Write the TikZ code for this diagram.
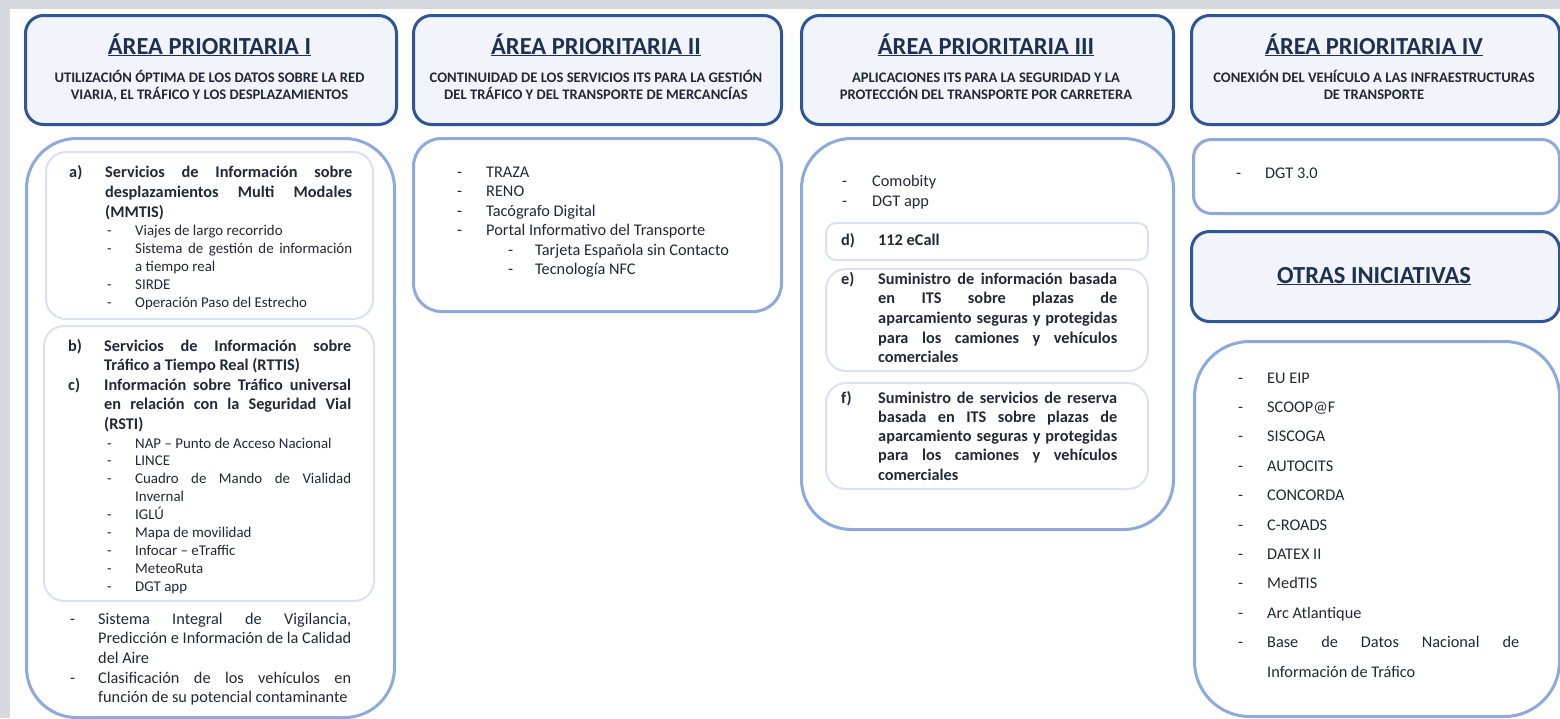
\documentclass[tikz,border=0pt]{standalone}
\usepackage{fontspec}
\setmainfont{Carlito}

\definecolor{hdblue}{HTML}{2F5597}
\definecolor{hdfill}{HTML}{F1F5FB}
\definecolor{lsblue}{HTML}{8EA9DB}
\definecolor{sbblue}{HTML}{D9E2F3}
\definecolor{ttl}{HTML}{1F3050}
\definecolor{txt}{HTML}{222834}
\definecolor{bggrey}{HTML}{D6D9DE}

\newcommand{\jus}[2]{\makebox[#1][s]{#2}}

\begin{document}
\begin{tikzpicture}[x=1pt,y=-1pt,
  headbox/.style={draw=hdblue,line width=3pt,fill=hdfill,rounded corners=18pt,anchor=north west,inner sep=0pt},
  listbox/.style={draw=lsblue,line width=3pt,fill=white,anchor=north west,inner sep=0pt},
  subbox/.style={draw=sbblue,line width=2pt,fill=white,rounded corners=20pt,anchor=north west,inner sep=0pt},
  title/.style={font=\fontsize{24.5}{28}\selectfont\bfseries,text=ttl,anchor=base,inner sep=0pt},
  subtitle/.style={font=\fontsize{14.6}{17.8}\selectfont\bfseries,text=txt,anchor=base,inner sep=0pt},
  body/.style={font=\fontsize{16.3}{#1}\selectfont,text=txt,anchor=base west,inner sep=0pt},
  body/.default=20,
  small/.style={font=\fontsize{14.9}{#1}\selectfont,text=txt,anchor=base west,inner sep=0pt},
  small/.default=18]

% fondo
\fill[bggrey] (0,0) rectangle (1560,718);
\fill[white] (10,9) rectangle (1560,718);
\useasboundingbox (0,0) rectangle (1560,718);

% cabeceras
\node[headbox,minimum width=371pt,minimum height=109pt] (H1) at (24,14) {};
\node[headbox,minimum width=368pt,minimum height=109pt] (H2) at (412,14) {};
\node[headbox,minimum width=372pt,minimum height=109pt] (H3) at (800,14) {};
\node[headbox,minimum width=368pt,minimum height=109pt] (H4) at (1190,14) {};

\node[title] (T1) at (209.5,54) {\underline{ÁREA PRIORITARIA I}};
\node[title] (T2) at (596,54) {\underline{ÁREA PRIORITARIA II}};
\node[title] (T3) at (986,54) {\underline{ÁREA PRIORITARIA III}};
\node[title] (T4) at (1374,54) {\underline{ÁREA PRIORITARIA IV}};

\node[subtitle] (S1) at (209.5,82) {\begin{tabular}[t]{@{}c@{}}UTILIZACIÓN ÓPTIMA DE LOS DATOS SOBRE LA RED\\VIARIA, EL TRÁFICO Y LOS DESPLAZAMIENTOS\end{tabular}};
\node[subtitle] (S2) at (596,82) {\begin{tabular}[t]{@{}c@{}}CONTINUIDAD DE LOS SERVICIOS ITS PARA LA GESTIÓN\\DEL TRÁFICO Y DEL TRANSPORTE DE MERCANCÍAS\end{tabular}};
\node[subtitle] (S3) at (986,82) {\begin{tabular}[t]{@{}c@{}}APLICACIONES ITS PARA LA SEGURIDAD Y LA\\PROTECCIÓN DEL TRANSPORTE POR CARRETERA\end{tabular}};
\node[subtitle] (S4) at (1374,82) {\begin{tabular}[t]{@{}c@{}}CONEXIÓN DEL VEHÍCULO A LAS INFRAESTRUCTURAS\\DE TRANSPORTE\end{tabular}};

% area I
\node[listbox,rounded corners=50pt,minimum width=368pt,minimum height=579pt] (C1) at (25,137) {};
\node[subbox,minimum width=327pt,minimum height=167pt] (Ca) at (45,151) {};
\node[subbox,minimum width=330pt,minimum height=275pt] (Cbc) at (43,325) {};

\node[body=20] (Ta) at (69,177) {\bfseries\begin{tabular}[t]{@{}p{36pt}@{}l@{}}
a) & \jus{247pt}{Servicios de Información sobre}\\
   & \jus{247pt}{desplazamientos Multi Modales}\\
   & (MMTIS)
\end{tabular}};
\node[small=18] (La) at (107,235) {\begin{tabular}[t]{@{}p{28pt}@{}l@{}}
- & Viajes de largo recorrido\\
- & \jus{217pt}{Sistema de gestión de información}\\
  & a tiempo real\\
- & SIRDE\\
- & Operación Paso del Estrecho
\end{tabular}};

\node[body=19.5] (Tbc) at (68,351) {\bfseries\begin{tabular}[t]{@{}p{36pt}@{}l@{}}
b) & \jus{247pt}{Servicios de Información sobre}\\
   & Tráfico a Tiempo Real (RTTIS)\\
c) & \jus{247pt}{Información sobre Tráfico universal}\\
   & \jus{247pt}{en relación con la Seguridad Vial}\\
   & (RSTI)
\end{tabular}};
\node[small=17.9] (Lbc) at (107,448) {\begin{tabular}[t]{@{}p{28pt}@{}l@{}}
- & NAP – Punto de Acceso Nacional\\
- & LINCE\\
- & \jus{216pt}{Cuadro de Mando de Vialidad}\\
  & Invernal\\
- & IGLÚ\\
- & Mapa de movilidad\\
- & Infocar – eTraffic\\
- & MeteoRuta\\
- & DGT app
\end{tabular}};
\node[body=19.7] (L1) at (70,624) {\begin{tabular}[t]{@{}p{28pt}@{}l@{}}
- & \jus{253pt}{Sistema Integral de Vigilancia,}\\
  & \jus{253pt}{Predicción e Información de la Calidad}\\
  & del Aire\\
- & \jus{253pt}{Clasificación de los vehículos en}\\
  & función de su potencial contaminante
\end{tabular}};

% area II
\node[listbox,rounded corners=28pt,minimum width=368pt,minimum height=173pt] (C2) at (412,137) {};
\node[body=19.5] (L2) at (457,177) {\begin{tabular}[t]{@{}p{29pt}@{}l@{}}
- & TRAZA\\
- & RENO\\
- & Tacógrafo Digital\\
- & Portal Informativo del Transporte\\
  & \hspace{22pt}\makebox[27pt][l]{-}Tarjeta Española sin Contacto\\
  & \hspace{22pt}\makebox[27pt][l]{-}Tecnología NFC
\end{tabular}};

% area III
\node[listbox,rounded corners=50pt,minimum width=372pt,minimum height=391pt] (C3) at (800,137) {};
\node[body=20] (L3) at (842,186) {\begin{tabular}[t]{@{}p{30pt}@{}l@{}}
- & Comobity\\
- & DGT app
\end{tabular}};
\node[subbox,rounded corners=10pt,minimum width=322pt,minimum height=37pt] (Cd) at (825,222) {};
\node[body] (Td) at (841,245) {\bfseries\makebox[37pt][l]{d)}112 eCall};
\node[subbox,minimum width=322pt,minimum height=102pt] (Ce) at (825,268) {};
\node[body=19.7] (Te) at (841,284) {\bfseries\begin{tabular}[t]{@{}p{37pt}@{}l@{}}
e) & \jus{239pt}{Suministro de información basada}\\
   & \jus{239pt}{en ITS sobre plazas de}\\
   & \jus{239pt}{aparcamiento seguras y protegidas}\\
   & \jus{239pt}{para los camiones y vehículos}\\
   & comerciales
\end{tabular}};
\node[subbox,minimum width=322pt,minimum height=106pt] (Cf) at (825,382) {};
\node[body=19.3] (Tf) at (841,403) {\bfseries\begin{tabular}[t]{@{}p{37pt}@{}l@{}}
f) & \jus{239pt}{Suministro de servicios de reserva}\\
   & \jus{239pt}{basada en ITS sobre plazas de}\\
   & \jus{239pt}{aparcamiento seguras y protegidas}\\
   & \jus{239pt}{para los camiones y vehículos}\\
   & comerciales
\end{tabular}};

% area IV y otras iniciativas
\node[listbox,rounded corners=18pt,minimum width=366pt,minimum height=74pt] (C4) at (1192,138) {};
\node[body] (L4) at (1236,178) {\makebox[29pt][l]{-}DGT 3.0};

\node[headbox,minimum width=368pt,minimum height=90pt] (H5) at (1190,230) {};
\node[title] (T5) at (1374,283) {\underline{OTRAS INICIATIVAS}};

\node[listbox,rounded corners=55pt,minimum width=365pt,minimum height=375pt] (C5) at (1193,340) {};
\node[body=29.4] (L5) at (1238,383) {\begin{tabular}[t]{@{}p{29pt}@{}l@{}}
- & EU EIP\\
- & SCOOP@F\\
- & SISCOGA\\
- & AUTOCITS\\
- & CONCORDA\\
- & C-ROADS\\
- & DATEX II\\
- & MedTIS\\
- & Arc Atlantique\\
- & \jus{252pt}{Base de Datos Nacional de}\\
  & Información de Tráfico
\end{tabular}};
\end{tikzpicture}
\end{document}
